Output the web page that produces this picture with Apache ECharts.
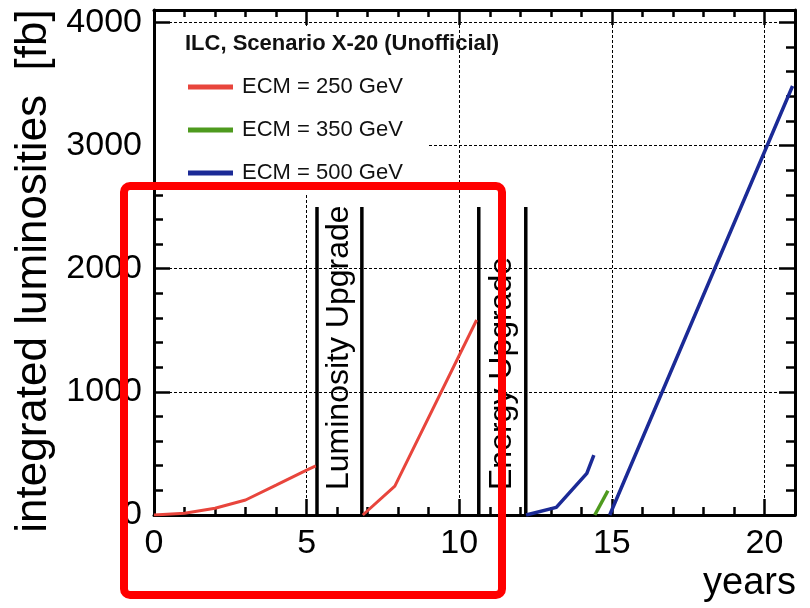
<!DOCTYPE html>
<html>
<head>
<meta charset="utf-8">
<script src="https://cdn.jsdelivr.net/npm/echarts@6/dist/echarts.min.js"></script>
<style>
html, body { margin: 0; padding: 0; background: #fff; }
#main { width: 810px; height: 608px; }
</style>
</head>
<body>
<div id="main"></div>
<script>
// ECM = 250 GeV (two running periods, gap = luminosity upgrade)
var years250 = [0, 1, 2, 3, 4, 5, 5.3, 6, 6.84, 7.89, 10.57];
var lumi250 = [0, 14, 55, 122, 243, 365, 398, '-', 0, 235, 1583];
// ECM = 350 GeV
var years350 = [14.44, 14.87];
var lumi350 = [0, 197];
// ECM = 500 GeV
var years500 = [12.19, 13.18, 14.18, 14.41, 14.7, 14.93, 20.92];
var lumi500 = [0, 62, 338, 487, '-', 0, 3483];

// upgrade periods
var upgradeNames = ['Luminosity Upgrade', 'Energy Upgrade'];
var upgradeFrom = [5.34, 10.64];
var upgradeTo = [6.81, 12.18];
var upgradeTop = [2500, 2500];

var seriesNames = ['ECM = 250 GeV', 'ECM = 350 GeV', 'ECM = 500 GeV'];
var seriesColors = ['#e8453c', '#4e9a1e', '#1b2a96'];

var font = 'Liberation Sans, Arial, Helvetica, sans-serif';

function pairs(xs, ys) {
    var out = [];
    for (var i = 0; i < xs.length; i++) {
        out.push([xs[i], ys[i]]);
    }
    return out;
}

var upgradeData = [];
for (var i = 0; i < upgradeNames.length; i++) {
    upgradeData.push([upgradeFrom[i], upgradeTo[i], upgradeTop[i]]);
}

var chart = echarts.init(document.getElementById('main'));

var frameLine = { show: true, onZero: false, lineStyle: { color: '#000', width: 3 } };
var noLine = { show: false, onZero: false };

chart.setOption({
    animation: false,
    backgroundColor: '#fff',
    title: {
        text: 'ILC, Scenario X-20 (Unofficial)',
        left: 185,
        top: 33,
        padding: 0,
        textStyle: { fontFamily: font, fontSize: 22, fontWeight: 'bold', color: '#111' }
    },
    legend: {
        data: seriesNames,
        orient: 'vertical',
        left: 188,
        top: 76,
        padding: 0,
        itemWidth: 45,
        itemHeight: 5,
        itemGap: 21,
        icon: 'rect',
        selectedMode: false,
        textStyle: { fontFamily: font, fontSize: 22, lineHeight: 22, color: '#111', padding: [0, 0, 0, 4] }
    },
    graphic: [{
        // white legend box hiding the grid lines
        type: 'rect',
        z: 1,
        shape: { x: 156, y: 26, width: 272, height: 167 },
        style: { fill: '#fff' }
    }, {
        // red highlight frame drawn over the plot
        type: 'rect',
        z: 20,
        shape: { x: 124, y: 186, width: 378, height: 409, r: 6 },
        style: { fill: 'none', stroke: '#ff0000', lineWidth: 8 }
    }],
    grid: { left: 154, right: 15, top: 10, bottom: 93, containLabel: false, outerBoundsMode: 'none' },
    xAxis: [{
        type: 'value', position: 'bottom', min: 0, max: 21, interval: 5,
        name: 'years', nameLocation: 'end', nameGap: -92, nameMoveOverlap: false,
        nameTextStyle: { fontFamily: font, fontSize: 38, color: '#000', verticalAlign: 'top', padding: [50, 0, 0, 0] },
        axisLine: frameLine,
        axisTick: { inside: true, length: 16, lineStyle: { color: '#000', width: 2.5 } },
        axisLabel: {
            fontFamily: font, fontSize: 34, color: '#000', margin: 12,
            formatter: function (v) { return v % 5 === 0 ? v : ''; }
        },
        splitLine: { show: true, lineStyle: { color: '#000', width: 1, type: [3, 2] } }
    }, {
        type: 'value', position: 'bottom', min: 0, max: 21, interval: 1,
        axisLine: noLine,
        axisTick: { inside: true, length: 8, lineStyle: { color: '#000', width: 2.5 } },
        axisLabel: { show: false },
        splitLine: { show: false }
    }, {
        type: 'value', position: 'top', min: 0, max: 21, interval: 5,
        axisLine: frameLine,
        axisTick: { inside: true, length: 15, lineStyle: { color: '#000', width: 2.5 } },
        axisLabel: { show: false },
        splitLine: { show: false }
    }, {
        type: 'value', position: 'top', min: 0, max: 21, interval: 1,
        axisLine: noLine,
        axisTick: { inside: true, length: 7, lineStyle: { color: '#000', width: 2.5 } },
        axisLabel: { show: false },
        splitLine: { show: false }
    }],
    yAxis: [{
        type: 'value', position: 'left', min: 0, max: 4100, interval: 1000,
        name: 'integrated luminosities  [fb]', nameLocation: 'middle', nameGap: 90,
        nameTextStyle: { fontFamily: font, fontSize: 44, color: '#000', padding: [0, 17, 0, 0] },
        axisLine: frameLine,
        axisTick: { inside: true, length: 16, lineStyle: { color: '#000', width: 2.5 } },
        axisLabel: {
            fontFamily: font, fontSize: 34, color: '#000', margin: 12,
            formatter: function (v) { return v % 1000 === 0 ? v : ''; }
        },
        splitLine: { show: true, lineStyle: { color: '#000', width: 1, type: [3, 2] } }
    }, {
        type: 'value', position: 'left', min: 0, max: 4100, interval: 200,
        axisLine: noLine,
        axisTick: { inside: true, length: 9, lineStyle: { color: '#000', width: 2.5 } },
        axisLabel: { show: false },
        splitLine: { show: false }
    }, {
        type: 'value', position: 'right', min: 0, max: 4100, interval: 1000,
        axisLine: frameLine,
        axisTick: { inside: true, length: 16, lineStyle: { color: '#000', width: 2.5 } },
        axisLabel: { show: false },
        splitLine: { show: false }
    }, {
        type: 'value', position: 'right', min: 0, max: 4100, interval: 200,
        axisLine: noLine,
        axisTick: { inside: true, length: 9, lineStyle: { color: '#000', width: 2.5 } },
        axisLabel: { show: false },
        splitLine: { show: false }
    }],
    series: [{
        name: seriesNames[0], type: 'line', symbol: 'none', connectNulls: false,
        data: pairs(years250, lumi250),
        itemStyle: { color: seriesColors[0] },
        lineStyle: { color: seriesColors[0], width: 3 }
    }, {
        name: seriesNames[1], type: 'line', symbol: 'none', connectNulls: false,
        data: pairs(years350, lumi350),
        itemStyle: { color: seriesColors[1] },
        lineStyle: { color: seriesColors[1], width: 3.5 }
    }, {
        name: seriesNames[2], type: 'line', symbol: 'none', connectNulls: false,
        data: pairs(years500, lumi500),
        itemStyle: { color: seriesColors[2] },
        lineStyle: { color: seriesColors[2], width: 3.5 }
    }, {
        type: 'custom',
        z: 3,
        encode: { x: [0, 1], y: 2 },
        data: upgradeData,
        renderItem: function (params, api) {
            var a0 = api.coord([api.value(0), 0]);
            var a1 = api.coord([api.value(0), api.value(2)]);
            var b0 = api.coord([api.value(1), 0]);
            var b1 = api.coord([api.value(1), api.value(2)]);
            var st = { stroke: '#000', lineWidth: 3.5 };
            return {
                type: 'group',
                children: [
                    { type: 'line', shape: { x1: a0[0], y1: a0[1], x2: a1[0], y2: a1[1] }, style: st },
                    { type: 'line', shape: { x1: b0[0], y1: b0[1], x2: b1[0], y2: b1[1] }, style: st },
                    {
                        type: 'text',
                        x: (a0[0] + b0[0]) / 2,
                        y: a0[1] - 25,
                        rotation: Math.PI / 2,
                        style: {
                            text: upgradeNames[params.dataIndex],
                            fontFamily: font, fontSize: 32, fill: '#000',
                            align: 'left', verticalAlign: 'middle'
                        }
                    }
                ]
            };
        }
    }]
});
</script>
</body>
</html>
